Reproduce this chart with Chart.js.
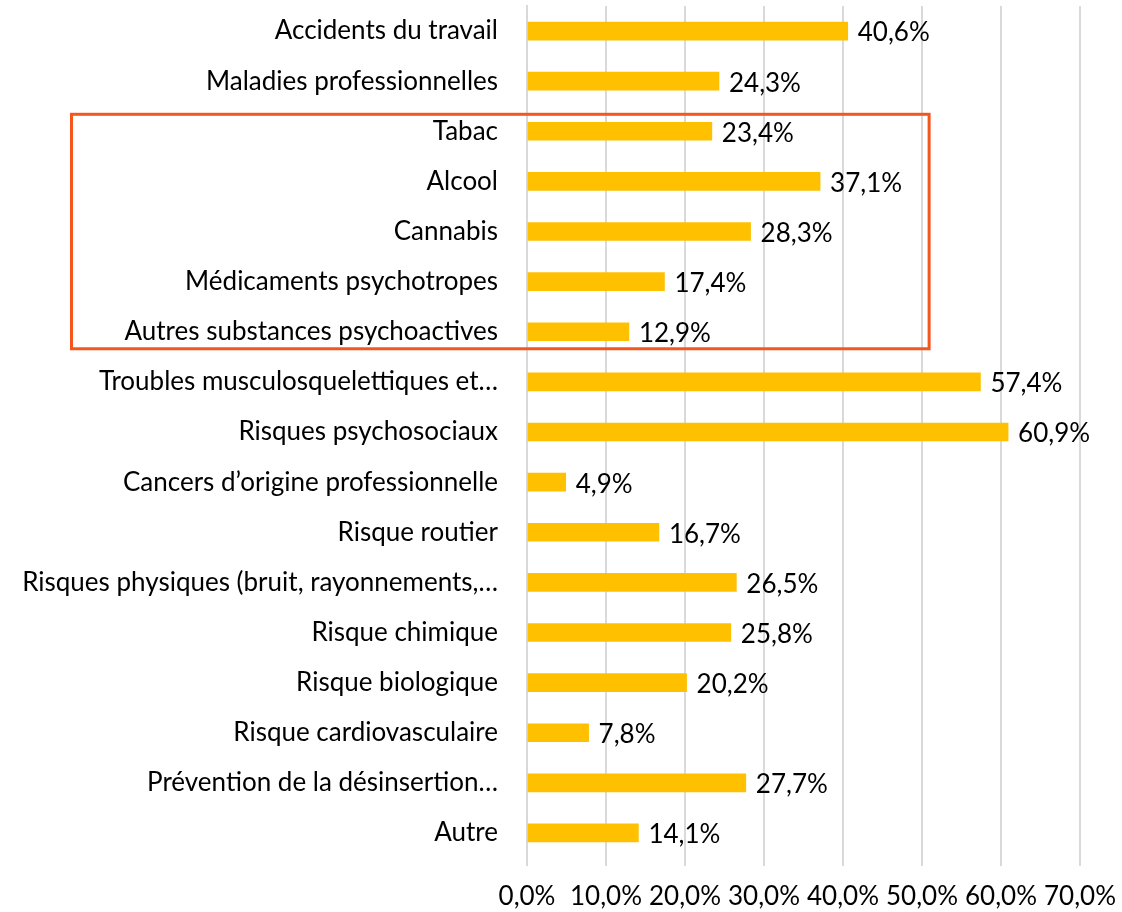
<!DOCTYPE html>
<html>
<head>
<meta charset="utf-8">
<script src="https://cdn.jsdelivr.net/npm/chart.js@4/dist/chart.umd.min.js"></script>
<style>
  html, body { margin: 0; padding: 0; background: #fff; }
</style>
</head>
<body>
<canvas id="chart" width="1122" height="912"></canvas>
<script>
const categories = [
  'Accidents du travail',
  'Maladies professionnelles',
  'Tabac',
  'Alcool',
  'Cannabis',
  'Médicaments psychotropes',
  'Autres substances psychoactives',
  'Troubles musculosquelettiques et…',
  'Risques psychosociaux',
  'Cancers d’origine professionnelle',
  'Risque routier',
  'Risques physiques (bruit, rayonnements,…',
  'Risque chimique',
  'Risque biologique',
  'Risque cardiovasculaire',
  'Prévention de la désinsertion…',
  'Autre'
];
const values = [40.6, 24.3, 23.4, 37.1, 28.3, 17.4, 12.9, 57.4, 60.9, 4.9, 16.7, 26.5, 25.8, 20.2, 7.8, 27.7, 14.1];
const xTicks = [0, 10, 20, 30, 40, 50, 60, 70];
const boxedFrom = 2, boxedTo = 6; // Tabac .. Autres substances

const FONT = 'Lato, "Open Sans", sans-serif';
const SIZE = 26;
const fmt = v => v.toFixed(1).replace('.', ',') + '%';

// value labels after each bar
const valueLabels = {
  id: 'valueLabels',
  afterDatasetsDraw(chart) {
    const ctx = chart.ctx;
    const meta = chart.getDatasetMeta(0);
    ctx.save();
    ctx.font = SIZE + 'px ' + FONT;
    ctx.fillStyle = '#000';
    ctx.textAlign = 'left';
    ctx.textBaseline = 'middle';
    meta.data.forEach((bar, i) => {
      ctx.fillText(fmt(values[i]), bar.x + 10, bar.y + 2);
    });
    ctx.restore();
  }
};

// orange frame around the substances group
const frame = {
  id: 'frame',
  afterDraw(chart) {
    const ctx = chart.ctx;
    const y = chart.scales.y, x = chart.scales.x;
    const top = y.getPixelForValue(boxedFrom) - 17;
    const bottom = y.getPixelForValue(boxedTo) + 17;
    const right = x.getPixelForValue(50.9);
    ctx.save();
    ctx.strokeStyle = '#F4561D';
    ctx.lineWidth = 3;
    ctx.strokeRect(71.5, top, right - 71.5, bottom - top);
    ctx.restore();
  }
};

const noPad = s => { s.paddingTop = 0; s.paddingBottom = 0; s.paddingLeft = 0; s.paddingRight = 0; };

new Chart(document.getElementById('chart'), {
  type: 'bar',
  data: {
    labels: categories,
    datasets: [{
      data: values,
      backgroundColor: '#FFC000',
      barThickness: 18
    }]
  },
  options: {
    indexAxis: 'y',
    responsive: false,
    animation: false,
    layout: { padding: { top: 6, right: 42, left: 0, bottom: 0 } },
    plugins: {
      legend: { display: false },
      tooltip: { enabled: false }
    },
    scales: {
      x: {
        min: 0,
        max: 70,
        afterBuildTicks: s => { s.ticks = xTicks.map(v => ({ value: v })); },
        afterFit: s => { s.height = 54; noPad(s); },
        border: { display: false },
        grid: { color: '#D9D9D9', lineWidth: 2, tickLength: 8 },
        ticks: {
          callback: v => fmt(v),
          color: '#000',
          font: { family: FONT, size: SIZE },
          padding: 15,
          maxRotation: 0,
          autoSkip: false
        }
      },
      y: {
        afterFit: s => { s.width = 527; noPad(s); },
        border: { display: true, color: '#D9D9D9', width: 2 },
        grid: { display: false },
        ticks: {
          color: '#000',
          font: { family: FONT, size: SIZE },
          padding: 21,
          autoSkip: false
        }
      }
    }
  },
  plugins: [valueLabels, frame]
});
</script>
</body>
</html>
